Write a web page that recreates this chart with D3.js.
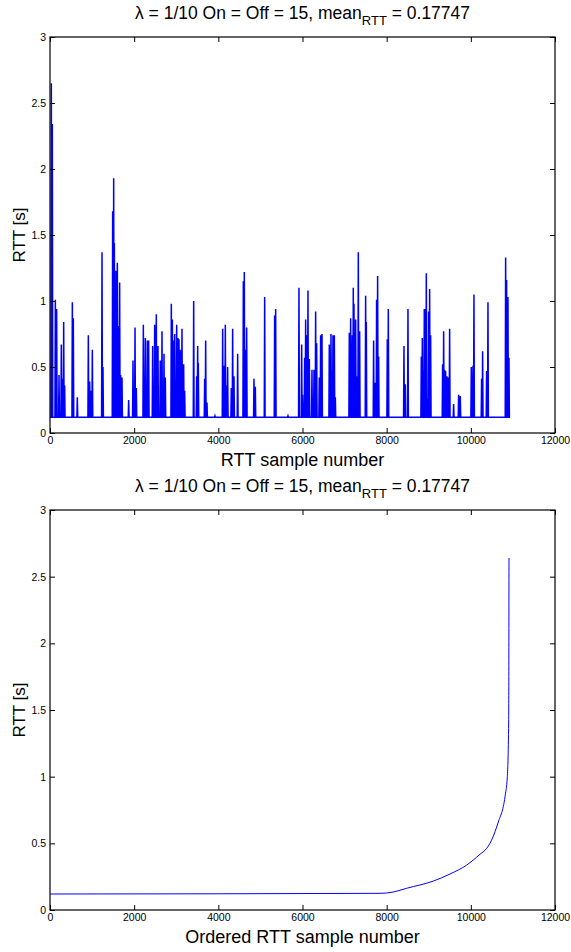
<!DOCTYPE html>
<html>
<head>
<meta charset="utf-8">
<script src="https://cdn.jsdelivr.net/npm/d3@7"></script>
<style>
  body { margin: 0; background: #fff; }
  svg text { font-family: "Liberation Sans", Arial, Helvetica, sans-serif; fill: #000; }
</style>
</head>
<body>
<div id="chart-area"></div>
<script>

// Axis ticks
let xTicks = [0, 2000, 4000, 6000, 8000, 10000, 12000];
let yTicks = [0, 0.5, 1, 1.5, 2, 2.5, 3];

// RTT samples: baseline value, last sample, and the spikes
let rttBase = 0.12;
let lastSample = 10906;
let spikeSample = [32, 55, 127, 158, 214, 269, 301, 325, 348, 531, 554, 649, 911, 943, 982, 1006,
	1236, 1259, 1489, 1513, 1529, 1568, 1600, 1624, 1655, 1679, 1711, 1869, 1972, 2020, 2051,
	2218, 2265, 2313, 2344, 2439, 2487, 2526, 2566, 2621, 2661, 2709, 2740,
	2883, 2907, 2938, 2962, 3010, 3041, 3065, 3097, 3136, 3176, 3200, 3414, 3485, 3509, 3524,
	3675, 3699, 3730, 3920, 4103, 4142, 4166, 4198, 4221, 4308, 4340, 4372, 4459, 4594, 4617,
	4641, 4673, 4847, 4879, 5101, 5338, 5362,
	5655, 5916, 5980, 6003, 6051, 6075, 6106, 6130, 6162, 6225, 6273, 6312, 6336, 6399, 6431,
	6463, 6637, 6653, 6677, 6708, 6724, 6756, 6780, 7112, 7144, 7184, 7207, 7223, 7263, 7287,
	7326, 7358, 7500, 7516, 7690, 7730, 7761, 7785, 7809, 8015, 8039, 8411, 8443,
	8506, 8823, 8847, 8870, 8894, 8918, 8942, 8973, 8997, 9021, 9045, 9330, 9354, 9377, 9401,
	9433, 9464, 9496, 9591, 9710, 9749, 10011, 10051, 10074, 10256, 10280, 10375, 10407,
	10827, 10850, 10882, 10906];
let spikeRTT = [2.65, 2.34, 1.01, 0.94, 0.44, 0.67, 0.41, 0.84, 0.36, 0.99, 0.87, 0.27, 0.74, 0.39, 0.32, 0.63,
	1.37, 0.50, 1.68, 1.93, 1.44, 1.23, 1.29, 0.81, 1.14, 0.44, 0.42, 0.25, 0.55, 0.80, 0.34,
	0.82, 0.72, 0.70, 0.70, 0.66, 0.82, 0.90, 0.66, 0.55, 0.77, 0.60, 0.42,
	0.98, 0.86, 0.70, 0.75, 0.82, 0.72, 0.71, 0.63, 0.79, 0.52, 0.32, 1.00, 0.43, 0.66, 0.53,
	0.41, 0.70, 0.23, 0.13, 0.79, 0.51, 0.82, 0.36, 0.50, 0.34, 0.79, 0.43, 0.60, 1.15, 1.22,
	0.63, 0.80, 0.41, 0.35, 1.03, 0.89, 0.94,
	0.13, 1.10, 0.67, 0.29, 0.57, 0.86, 0.74, 1.08, 0.56, 0.48, 0.48, 0.92, 0.68, 0.42, 0.74,
	0.75, 0.67, 0.51, 0.75, 0.47, 0.74, 0.74, 0.27, 0.76, 0.87, 0.74, 1.10, 0.98, 0.86, 0.43,
	1.37, 0.77, 1.04, 0.84, 0.70, 0.38, 1.01, 1.19, 0.58, 0.71, 0.94, 0.66, 0.37,
	0.94, 0.58, 0.72, 0.47, 0.94, 0.94, 1.21, 0.26, 0.92, 1.09, 0.74, 0.52, 0.77, 0.48, 0.47,
	0.43, 0.42, 0.79, 0.22, 0.29, 0.28, 0.50, 0.51, 1.05, 0.41, 0.62, 0.47, 0.99,
	1.33, 1.16, 1.03, 0.57];

// Sorted RTT curve (bottom plot)
let sortedSample = [0, 7842, 8158, 8476, 9108, 9505, 9901, 10218, 10376, 10455, 10574, 10653, 10812, 10867, 10899, 10907];
let sortedRTT = [0.12, 0.125, 0.135, 0.163, 0.217, 0.27, 0.337, 0.418, 0.462, 0.5, 0.587, 0.66, 0.85, 1.0, 1.41, 2.64];

let width = 571,
	height = 952;

let svg = d3.select("#chart-area").append("svg")
	.attr("width", width)
	.attr("height", height);

// build the spike series as baseline -> peak -> baseline
let topSeries = [[0, rttBase]];
spikeSample.forEach((s, i) => {
	topSeries.push([s - 10, rttBase], [s, spikeRTT[i]], [s + 10, rttBase]);
});
topSeries.push([lastSample, rttBase]);

let bottomSeries = sortedSample.map((s, i) => [s, sortedRTT[i]]);

drawPanel({left: 50, top: 37, w: 505, h: 396}, topSeries, "RTT sample number", 1.5, d3.curveLinear);
drawPanel({left: 50, top: 510, w: 505, h: 400}, bottomSeries, "Ordered RTT sample number", 1, d3.curveMonotoneX);

function drawPanel(box, data, xLabel, lw, curve) {

	let g = svg.append("g")
		.attr("transform", `translate(${box.left}, ${box.top})`);

	// scales
	let x = d3.scaleLinear().domain([0, 12000]).range([0, box.w]);
	let y = d3.scaleLinear().domain([0, 3]).range([box.h, 0]);

	// line
	let line = d3.line()
		.x(d => x(d[0]))
		.y(d => y(d[1]))
		.curve(curve);

	g.append("path")
		.datum(data)
		.attr("d", line)
		.attr("fill", "none")
		.attr("stroke", "#0000ff")
		.attr("stroke-width", lw)
		.attr("stroke-linejoin", "miter");

	// axes, ticks pointing in
	let fmt = d => String(d);

	g.append("g")
		.attr("class", "x-axis")
		.attr("transform", `translate(0, ${box.h})`)
		.call(d3.axisBottom(x).tickValues(xTicks).tickFormat(fmt).tickSizeInner(-5).tickSizeOuter(0).tickPadding(4));

	g.append("g")
		.attr("class", "x-axis-top")
		.call(d3.axisTop(x).tickValues(xTicks).tickFormat("").tickSizeInner(-5).tickSizeOuter(0));

	g.append("g")
		.attr("class", "y-axis")
		.call(d3.axisLeft(y).tickValues(yTicks).tickFormat(fmt).tickSizeInner(-5).tickSizeOuter(0).tickPadding(4));

	g.append("g")
		.attr("class", "y-axis-right")
		.attr("transform", `translate(${box.w}, 0)`)
		.call(d3.axisRight(y).tickValues(yTicks).tickFormat("").tickSizeInner(-5).tickSizeOuter(0));

	g.selectAll(".domain").remove();
	g.selectAll(".tick line").attr("stroke", "#000").attr("stroke-width", 1);
	g.selectAll(".tick text")
		.style("font-family", "'Liberation Sans', Arial, sans-serif")
		.style("font-size", "10.5px")
		.attr("fill", "#000");

	// frame
	g.append("rect")
		.attr("x", 0)
		.attr("y", 0)
		.attr("width", box.w)
		.attr("height", box.h)
		.attr("fill", "none")
		.attr("stroke", "#000")
		.attr("stroke-width", 1.2);

	// title
	let title = g.append("text")
		.attr("x", box.w / 2)
		.attr("y", -18)
		.attr("text-anchor", "middle")
		.style("font-size", "17.5px");
	title.append("tspan").text("λ = 1/10 On = Off = 15, mean");
	title.append("tspan").attr("dy", 6).style("font-size", "13px").text("RTT");
	title.append("tspan").attr("dy", -6).text(" = 0.17747");

	// x label
	g.append("text")
		.attr("x", box.w / 2)
		.attr("y", box.h + 33)
		.attr("text-anchor", "middle")
		.style("font-size", "18px")
		.text(xLabel);

	// y label
	g.append("text")
		.attr("transform", `translate(-25, ${box.h / 2}) rotate(-90)`)
		.attr("text-anchor", "middle")
		.style("font-size", "17px")
		.text("RTT [s]");
}

</script>
</body>
</html>
